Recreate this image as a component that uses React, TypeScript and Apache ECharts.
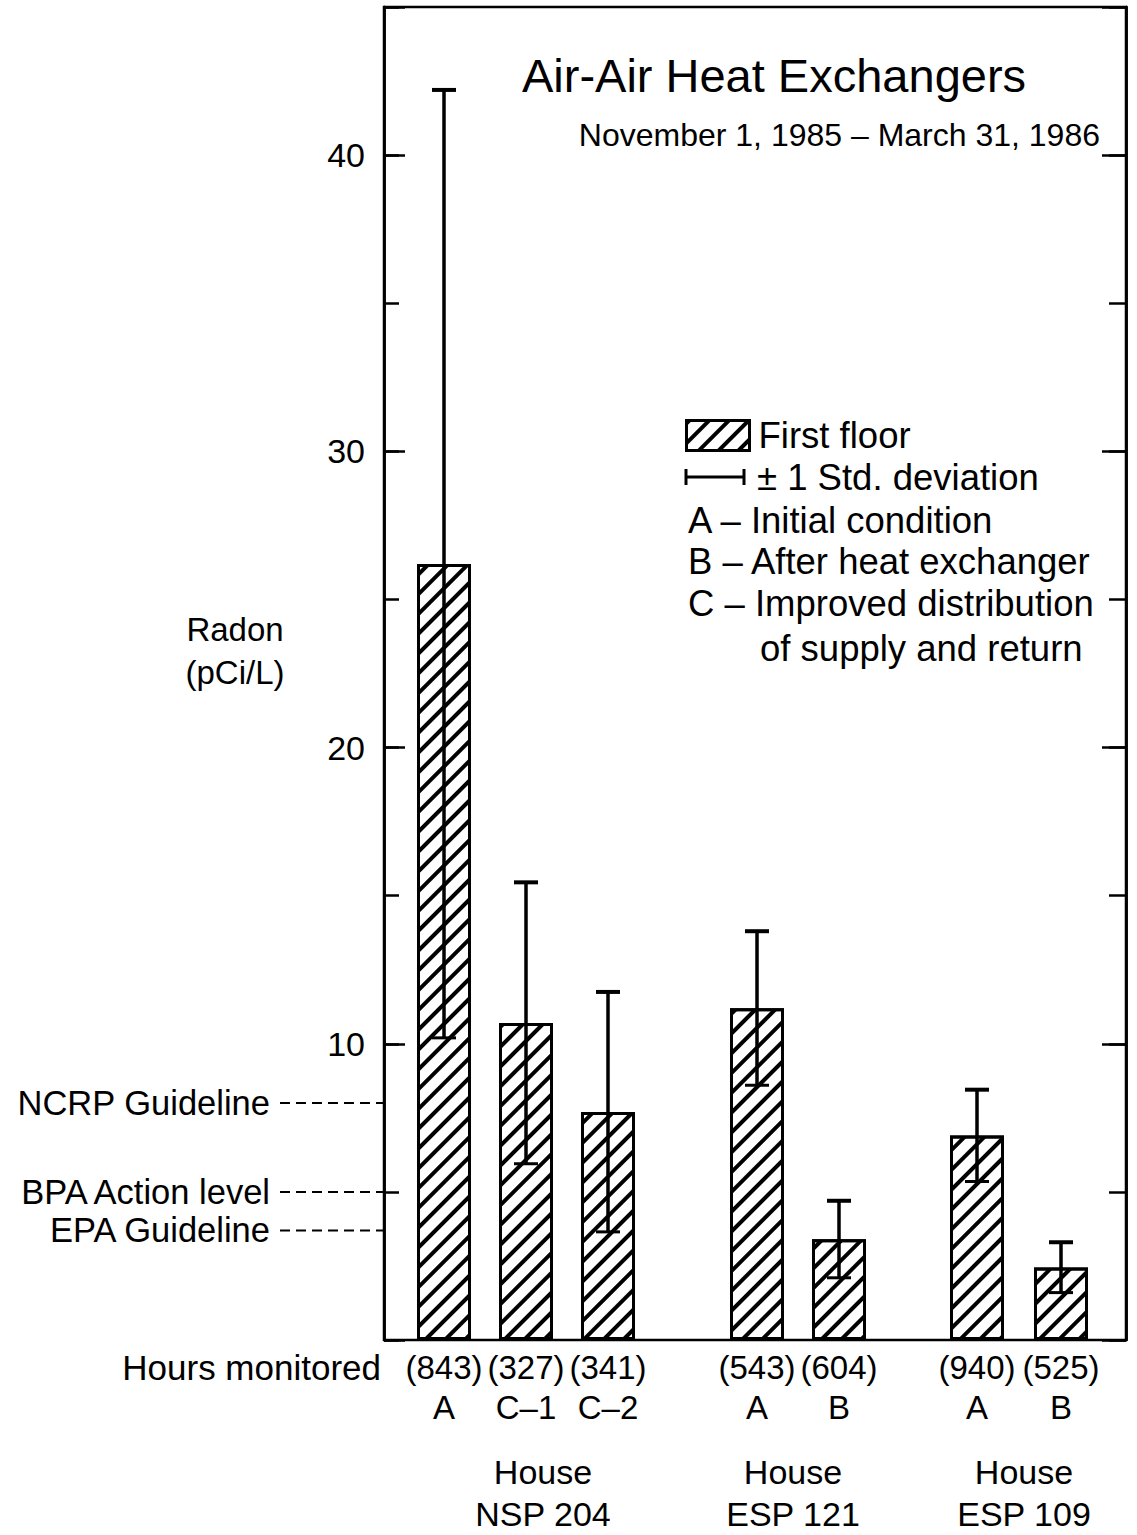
import React, { useEffect, useRef } from "react";
import * as echarts from "echarts";

const FONT = '"Liberation Sans", Arial, Helvetica, sans-serif';

// House NSP 204 — hours monitored / condition, mean radon and one std. deviation
const nspLabels = ["(843)\nA", "(327)\nC–1", "(341)\nC–2"];
const nspMean = [26.2, 10.7, 7.7];
const nspSd = [16.0, 4.75, 4.05];

// House ESP 121
const esp121Labels = ["(543)\nA", "(604)\nB"];
const esp121Mean = [11.2, 3.4];
const esp121Sd = [2.6, 1.3];

// House ESP 109
const esp109Labels = ["(940)\nA", "(525)\nB"];
const esp109Mean = [6.9, 2.45];
const esp109Sd = [1.55, 0.85];

const houseNames = ["House\nNSP 204", "House\nESP 121", "House\nESP 109"];

// Reference levels marked to the left of the axis
const guidelineNames = ["NCRP Guideline", "BPA Action level", "EPA Guideline"];
const guidelineValues = [8, 5, 3.7];

const legendLines = [
  "A – Initial condition",
  "B – After heat exchanger",
  "C – Improved distribution",
];

const Y_MAX = 45;

const houses = [
  { labels: nspLabels, mean: nspMean, sd: nspSd, left: 403, width: 246, namePad: [0, 0, 0, 34] },
  { labels: esp121Labels, mean: esp121Mean, sd: esp121Sd, left: 716, width: 164, namePad: [0, 10, 0, 0] },
  { labels: esp109Labels, mean: esp109Mean, sd: esp109Sd, left: 935, width: 168, namePad: [0, 0, 0, 10] },
];

const GRID_TOP = 7;
const GRID_HEIGHT = 1333;

const hatch = {
  symbol: "rect",
  symbolSize: 1,
  color: "#000",
  backgroundColor: "#fff",
  dashArrayX: [1, 0],
  dashArrayY: [4, 10],
  rotation: -Math.PI / 4,
};

const errorRender = (params: any, api: any) => {
  const i = api.value(0);
  const lo = api.coord([i, api.value(1)]);
  const hi = api.coord([i, api.value(2)]);
  const x = lo[0];
  const half = 12;
  return {
    type: "group",
    children: [
      { type: "line", shape: { x1: x, y1: lo[1], x2: x, y2: hi[1] }, style: { stroke: "#000", lineWidth: 3.5 } },
      { type: "line", shape: { x1: x - half, y1: hi[1], x2: x + half, y2: hi[1] }, style: { stroke: "#000", lineWidth: 4 } },
      { type: "line", shape: { x1: x - half, y1: lo[1], x2: x + half, y2: lo[1] }, style: { stroke: "#000", lineWidth: 3 } },
    ],
  };
};

const guideRender = (params: any, api: any) => {
  const p = api.coord([0, api.value(1)]);
  const x0 = p[0];
  const y = p[1];
  return {
    type: "group",
    children: [
      {
        type: "line",
        shape: { x1: x0 - 104, y1: y, x2: x0 - 1, y2: y },
        style: { stroke: "#000", lineWidth: 2, lineDash: [10, 6] },
      },
      {
        type: "text",
        style: {
          x: x0 - 114,
          y: y,
          text: guidelineNames[params.dataIndex],
          align: "right",
          textAlign: "right",
          verticalAlign: "middle",
          textVerticalAlign: "middle",
          font: `34.5px ${FONT}`,
          fill: "#000",
        },
      },
    ],
  };
};

export default function App() {
  const ref = useRef<HTMLDivElement>(null);

  useEffect(() => {
    document.body.style.margin = "0";
    const chart = echarts.init(ref.current!, null, { renderer: "svg" });

    const axisLine = { show: true, lineStyle: { color: "#000", width: 2.5 } };

    const grids: any[] = [
      {
        left: 384,
        top: GRID_TOP,
        width: 742,
        height: GRID_HEIGHT,
        outerBoundsMode: "none",
        containLabel: false,
        show: true,
        borderColor: "#000",
        borderWidth: 2.5,
        backgroundColor: "transparent",
      },
      ...houses.map((h) => ({
        left: h.left,
        width: h.width,
        top: GRID_TOP,
        height: GRID_HEIGHT,
        outerBoundsMode: "none",
        containLabel: false,
      })),
    ];

    const xAxes: any[] = [
      { gridIndex: 0, type: "value", min: 0, max: 1, show: false },
      ...houses.map((h, k) => ({
        gridIndex: k + 1,
        type: "category",
        data: h.labels,
        axisLine: { show: false },
        axisTick: { show: false },
        axisLabel: {
          interval: 0,
          margin: 7,
          fontSize: 33,
          lineHeight: 40,
          color: "#000",
          fontFamily: FONT,
        },
        name: houseNames[k],
        nameLocation: "middle",
        nameGap: 111,
        nameTextStyle: {
          fontSize: 34,
          lineHeight: 42,
          color: "#000",
          fontFamily: FONT,
          padding: h.namePad,
        },
      })),
    ];

    const minorAxis = (position: string, length: number) => ({
      gridIndex: 0,
      type: "value",
      position,
      min: 0,
      max: Y_MAX,
      interval: 5,
      axisLine,
      axisTick: { show: true, inside: true, length, lineStyle: { color: "#000", width: 2.5 } },
      axisLabel: { show: false },
      splitLine: { show: false },
    });

    const yAxes: any[] = [
      {
        gridIndex: 0,
        type: "value",
        position: "left",
        min: 0,
        max: Y_MAX,
        interval: 10,
        axisLine,
        axisTick: { show: true, inside: true, length: 21, lineStyle: { color: "#000", width: 2.5 } },
        axisLabel: {
          margin: 19,
          fontSize: 34,
          color: "#000",
          fontFamily: FONT,
          formatter: (v: number) => (v > 0 && v % 10 === 0 && v <= 40 ? String(v) : ""),
        },
        splitLine: { show: false },
      },
      minorAxis("left", 15),
      {
        gridIndex: 0,
        type: "value",
        position: "right",
        min: 0,
        max: Y_MAX,
        interval: 10,
        axisLine,
        axisTick: { show: true, inside: true, length: 24, lineStyle: { color: "#000", width: 2.5 } },
        axisLabel: { show: false },
        splitLine: { show: false },
      },
      minorAxis("right", 17),
      ...houses.map((_, k) => ({ gridIndex: k + 1, type: "value", min: 0, max: Y_MAX, show: false })),
    ];

    const series: any[] = [];
    houses.forEach((h, k) => {
      series.push({
        type: "bar",
        name: "First floor",
        xAxisIndex: k + 1,
        yAxisIndex: k + 4,
        data: h.mean,
        barWidth: 54,
        itemStyle: { color: "#fff", borderColor: "#000", borderWidth: 3, decal: hatch },
        z: 2,
      });
      series.push({
        type: "custom",
        xAxisIndex: k + 1,
        yAxisIndex: k + 4,
        data: h.mean.map((m, i) => [i, m - h.sd[i], m + h.sd[i]]),
        encode: { x: 0, y: [1, 2] },
        renderItem: errorRender,
        z: 5,
      });
    });
    series.push({
      type: "custom",
      xAxisIndex: 0,
      yAxisIndex: 0,
      data: guidelineValues.map((v) => [0, v]),
      encode: { x: 0, y: 1 },
      clip: false,
      renderItem: guideRender,
      z: 5,
    });

    const text = (x: number, y: number, t: string, size: number, align: string, extra: any = {}) => ({
      type: "text",
      x,
      y,
      style: {
        text: t,
        font: `${size}px ${FONT}`,
        fill: "#000",
        textAlign: align,
        textVerticalAlign: "middle",
        ...extra,
      },
    });

    const graphic: any[] = [
      text(774, 75, "Air-Air Heat Exchangers", 47, "center"),
      text(1100, 135, "November 1, 1985 – March 31, 1986", 32, "right"),
      text(235, 651, "Radon\n(pCi/L)", 33, "center", { lineHeight: 43 }),
      text(381, 1367, "Hours monitored", 35, "right"),
      // ± 1 std. deviation key
      { type: "line", shape: { x1: 686, y1: 477, x2: 744, y2: 477 }, style: { stroke: "#000", lineWidth: 3 } },
      { type: "line", shape: { x1: 686, y1: 469, x2: 686, y2: 485 }, style: { stroke: "#000", lineWidth: 3 } },
      { type: "line", shape: { x1: 744, y1: 469, x2: 744, y2: 485 }, style: { stroke: "#000", lineWidth: 3 } },
      text(757, 477, "± 1 Std. deviation", 36.5, "left"),
      ...legendLines.map((t, i) => text(688, 520 + i * 41.5, t, 36.5, "left")),
      text(760, 648, "of supply and return", 36.5, "left"),
    ];

    chart.setOption({
      animation: false,
      backgroundColor: "#fff",
      textStyle: { fontFamily: FONT, color: "#000" },
      legend: {
        data: ["First floor"],
        left: 680,
        top: 412,
        icon: "rect",
        itemWidth: 63,
        itemHeight: 30,
        itemGap: 10,
        selectedMode: false,
        itemStyle: { borderColor: "#000", borderWidth: 3 },
        textStyle: { fontSize: 36.5, color: "#000", fontFamily: FONT, padding: [0, 0, 0, 4] },
      },
      grid: grids,
      xAxis: xAxes,
      yAxis: yAxes,
      series,
      graphic,
    });

    return () => chart.dispose();
  }, []);

  return <div ref={ref} style={{ width: 1137, height: 1535 }} />;
}
